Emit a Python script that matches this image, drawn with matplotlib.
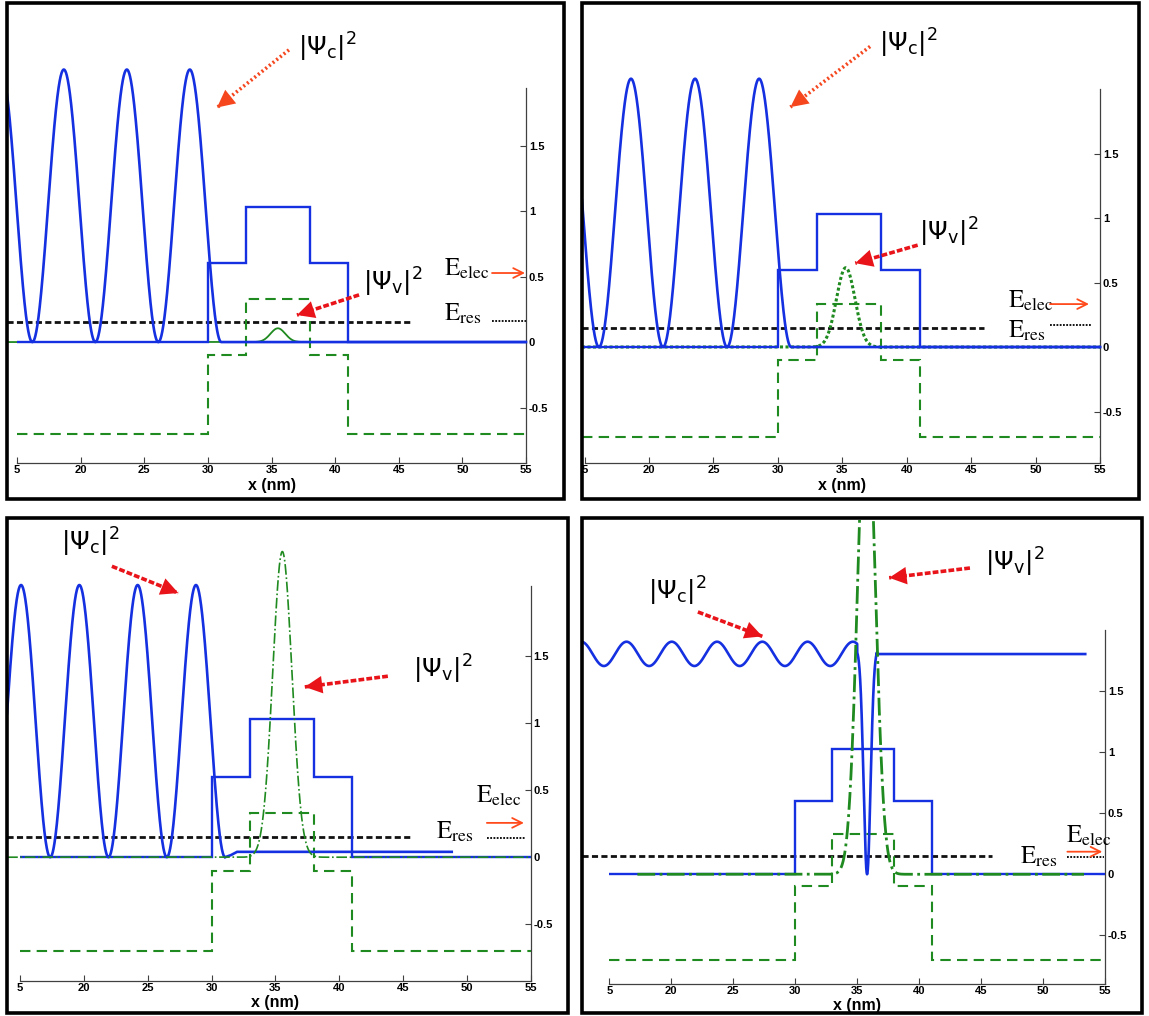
import numpy as np
import matplotlib
matplotlib.use("Agg")
import matplotlib.pyplot as plt
from matplotlib.patches import Rectangle

W, H = 1149, 1016

# ---------------- values ----------------
# band profile: layer edges (nm), conduction / valence band levels
EDGES = [30, 33, 38, 41, 55]
CB = [0, 0.6, 1.03, 0.6, 0]
VB = [-0.7, -0.1, 0.33, -0.1, -0.7]
BAND_LEFT = [15, 14.8, 15, 15]
E_RES = [0.15, 0.15, 0.154, 0.15]
E_RES_END = [46.0, 46.0, 45.8, 45.9]

# |Psi_c|^2 : crest positions (nm), crest and trough levels
PSI_C_PEAKS = [
    [18.68, 23.6, 28.58],
    [18.6, 23.54, 28.54],
    [15.09, 19.57, 24.17, 28.78],
    [16.39, 20.09, 23.73, 27.35, 31.0],
]
PSI_C_TOP = [2.08, 2.08, 2.03, 1.906]
PSI_C_LOW = [0.0, 0.0, 0.0, 1.707]
# panel 3 tail after the barrier, panel 4 dip + plateau
TAIL3_X = [31.06, 31.5, 32.0, 48.8]
TAIL3_Y = [0.0, 0.015, 0.04, 0.04]
DIP4 = dict(centre=35.8, width=0.28, level=1.85, start=35.0, plateau=1.805, end=53.4)

# |Psi_v|^2 : gaussian bump
PSI_V_CENTRE = [35.5, 35.26, 35.54, 35.75]
PSI_V_HEIGHT = [0.105, 0.615, 2.28, 4.0]
PSI_V_WIDTH = [0.58, 0.72, 0.75, 0.7]
PSI_V_SPAN = [(14.2, 55), (14.8, 55), (14.0, 55), (17.27, 53.3)]
PSI_V_STYLE = ["-", (0, (1, 0.8)), "-.", "-."]
PSI_V_LW = [1.3, 2.2, 1.2, 2.0]

XTICKS = [15, 20, 25, 30, 35, 40, 45, 50, 55]
XTICKLABELS = ["5", "20", "25", "30", "35", "40", "45", "50", "55"]
YTICKS = [-0.5, 0, 0.5, 1, 1.5]
YTICKLABELS = ["-0.5", "0", "0.5", "1", "1.5"]

# ---------------- layout (pixels of the reference) ----------------
FRAMES = [(7, 3, 564, 499), (582, 3, 1139, 499), (7, 518, 568, 1013), (582, 518, 1142, 1013)]
XLIM = [(14.214, 57.986), (14.8, 58.01), (13.99, 57.9), (12.8, 57.98)]
YLIM = [(-1.198, 2.588), (-1.178, 2.667), (-1.162, 2.53), (-1.137, 2.92)]
AXIS_Y = [-0.92, -0.9, -0.92, -0.9]
SPINE_TOP = [1.94, 2.0, 2.02, 2.0]
XLABEL_Y = [-1.095, -1.075, -1.085, -1.075]

LABEL_C = [(37.1, 2.25), (37.84, 2.35), (18.19, 2.345), (18.16, 2.32)]
ARROW_C = [((36.37, 2.23), (30.72, 1.79)), ((37.15, 2.33), (30.97, 1.86)),
           ((22.2, 2.17), (27.4, 1.97)), ((22.15, 2.15), (27.35, 1.95))]
DOTTED = (0, (0.55, 0.75))
DASHED = (0, (1.6, 0.6))
ARROW_C_LS = [DOTTED, DOTTED, DASHED, DASHED]
ARROW_C_COLOR = ["#f5461e", "#f5461e", "#e8141a", "#e8141a"]
LABEL_V = [(42.19, 0.458), (40.98, 0.89), (45.8, 1.40), (45.3, 2.56)]
ARROW_V = [((41.88, 0.36), (37.0, 0.206)), ((40.84, 0.79), (36.0, 0.65)),
           ((43.8, 1.35), (37.3, 1.27)), ((44.1, 2.51), (37.58, 2.43))]
E_ELEC_TXT = [(48.56, 0.557), (47.85, 0.357), (50.69, 0.457), (51.83, 0.314)]
E_ELEC_ARROW = [((52.33, 54.92), 0.527), ((51.1, 54.13), 0.333),
                ((51.55, 54.45), 0.256), ((51.96, 54.78), 0.185)]
E_RES_TXT = [(48.56, 0.214), (47.85, 0.124), (47.53, 0.19), (48.12, 0.146)]
E_RES_LINE = [((52.33, 55.08), 0.16), ((51.1, 54.29), 0.17),
              ((51.55, 54.58), 0.142), ((51.96, 54.9), 0.139)]

BLUE = "#1530e0"
GREEN = "#1f8a1f"
RED = "#e8141a"
ORANGE = "#ff4a1c"

plt.rcParams["mathtext.fontset"] = "dejavusans"
fig = plt.figure(figsize=(W / 100, H / 100), dpi=100)


def red_arrow(ax, tail, head, ls, color):
    # broken shaft + solid filled head
    ax.plot([tail[0], head[0]], [tail[1], head[1]], color=color, lw=2.6,
            linestyle=ls, zorder=7)
    ax.annotate("", xy=head, xytext=tail, zorder=8,
                arrowprops=dict(arrowstyle="-|>,head_length=0.7,head_width=0.35",
                                color=color, lw=0, shrinkA=0, shrinkB=0,
                                mutation_scale=18))


for i in range(4):
    x0, y0, x1, y1 = FRAMES[i]
    rect = [x0 / W, 1 - y1 / H, (x1 - x0) / W, (y1 - y0) / H]
    ax = fig.add_axes(rect)
    ax.set_xlim(XLIM[i])
    ax.set_ylim(YLIM[i])

    # |Psi_c|^2
    pk = np.array(PSI_C_PEAKS[i])
    period = np.diff(pk).mean()
    x_start = XLIM[i][0]
    x_end = DIP4["start"] if i == 3 else pk[-1] + period / 2
    xs = np.linspace(x_start, x_end, 1200)
    ys = PSI_C_LOW[i] + (PSI_C_TOP[i] - PSI_C_LOW[i]) * np.cos(np.pi * (xs - pk[0]) / period) ** 2
    if i in (0, 1):
        xs = np.append(xs, 55)
        ys = np.append(ys, 0)
    elif i == 2:
        xs = np.append(xs, TAIL3_X)
        ys = np.append(ys, TAIL3_Y)
    else:
        xd = np.linspace(DIP4["start"], 36.6, 300)
        yd = DIP4["level"] * (1 - np.exp(-(xd - DIP4["centre"]) ** 2 / (2 * DIP4["width"] ** 2)))
        xs = np.concatenate([xs, xd, [36.6, DIP4["end"]]])
        ys = np.concatenate([ys, yd, [DIP4["plateau"], DIP4["plateau"]]])
    ax.plot(xs, ys, color=BLUE, lw=1.9, zorder=4)

    # band edges
    edges = [BAND_LEFT[i]] + EDGES
    ax.stairs(CB, edges, baseline=None, color=BLUE, lw=1.7, zorder=3)
    ax.stairs(VB, edges, baseline=None, color=GREEN, lw=1.5,
              linestyle=(0, (5, 3)), zorder=3)

    # resonance energy
    ax.plot([x_start, E_RES_END[i]], [E_RES[i], E_RES[i]], color="#111111",
            lw=2.0, linestyle=(0, (2.2, 1.2)), zorder=2)

    # |Psi_v|^2
    xv = np.linspace(PSI_V_SPAN[i][0], PSI_V_SPAN[i][1], 1500)
    yv = PSI_V_HEIGHT[i] * np.exp(-(xv - PSI_V_CENTRE[i]) ** 2 / (2 * PSI_V_WIDTH[i] ** 2))
    ax.plot(xv, yv, color=GREEN, lw=PSI_V_LW[i], linestyle=PSI_V_STYLE[i],
            zorder=2.5 if i < 2 else 5)

    # axes: bottom and right only
    for s in ("left", "top"):
        ax.spines[s].set_visible(False)
    ax.spines["bottom"].set_position(("data", AXIS_Y[i]))
    ax.spines["bottom"].set_bounds(15, 55)
    ax.spines["right"].set_position(("data", 55))
    ax.spines["right"].set_bounds(AXIS_Y[i], SPINE_TOP[i])
    for s in ("bottom", "right"):
        ax.spines[s].set_color("#404040")
        ax.spines[s].set_linewidth(0.9)
    ax.yaxis.tick_right()
    ax.set_xticks(XTICKS)
    ax.set_xticklabels(XTICKLABELS)
    ax.set_yticks(YTICKS)
    ax.set_yticklabels(YTICKLABELS)
    ax.tick_params(direction="in", length=4, width=0.8, color="#404040", pad=2)
    ax.tick_params(axis="x", pad=1.5)
    for lbl in ax.get_xticklabels() + ax.get_yticklabels():
        lbl.set_fontfamily("Liberation Sans")
        lbl.set_fontweight("bold")
        lbl.set_fontsize(8)
    ax.set_xlabel("x (nm)", fontsize=11.5, fontweight="bold", family="Liberation Sans")
    ax.xaxis.set_label_coords(35, XLABEL_Y[i], transform=ax.transData)
    ax.xaxis.label.set_va("center")

    # annotations
    ax.text(*LABEL_C[i], r"$|\Psi_{\rm c}|^2$", fontsize=18, ha="left", va="center")
    ax.text(*LABEL_V[i], r"$|\Psi_{\rm v}|^2$", fontsize=18, ha="left", va="center")
    red_arrow(ax, *ARROW_C[i], ARROW_C_LS[i], ARROW_C_COLOR[i])
    red_arrow(ax, *ARROW_V[i], DASHED, RED)

    ax.text(*E_ELEC_TXT[i], r"$\mathrm{E}_{\mathrm{elec}}$", math_fontfamily="stix",
            fontsize=18, ha="left", va="center")
    (ea, eb), ey = E_ELEC_ARROW[i]
    ax.annotate("", xy=(eb, ey), xytext=(ea, ey),
                arrowprops=dict(arrowstyle="->,head_length=0.5,head_width=0.25",
                                color=ORANGE, lw=1.3, shrinkA=0, shrinkB=0,
                                mutation_scale=14))
    ax.text(*E_RES_TXT[i], r"$\mathrm{E}_{\mathrm{res}}$", math_fontfamily="stix",
            fontsize=18, ha="left", va="center")
    (ra, rb), ry = E_RES_LINE[i]
    ax.plot([ra, rb], [ry, ry], color="black", lw=1.3, linestyle=(0, (1, 0.8)))

    fig.add_artist(Rectangle((rect[0], rect[1]), rect[2], rect[3], transform=fig.transFigure,
                             fill=False, ec="black", lw=2.6, zorder=10))

fig.savefig("out.png", dpi=100)
